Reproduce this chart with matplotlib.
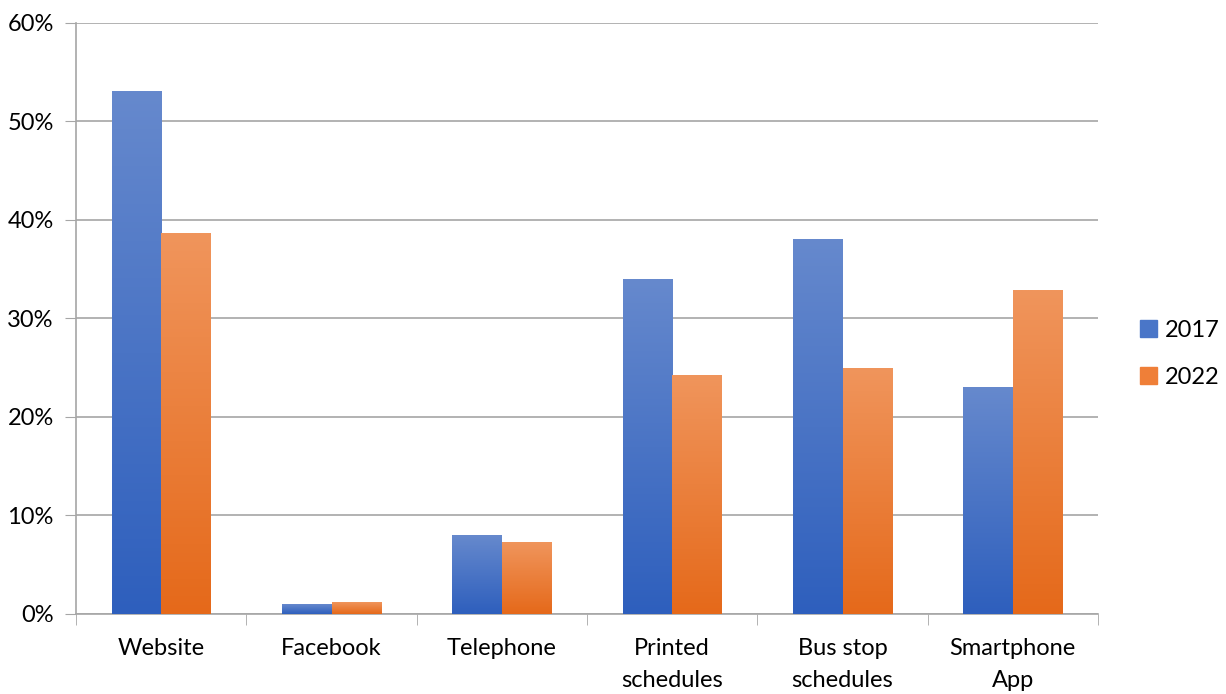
import matplotlib.pyplot as plt
import numpy as np
from matplotlib.colors import LinearSegmentedColormap
from matplotlib.patches import Patch

categories = ['Website', 'Facebook', 'Telephone', 'Printed\nschedules',
              'Bus stop\nschedules', 'Smartphone\nApp']
y2017 = [53, 1.0, 8.0, 34, 38, 23]
y2022 = [38.6, 1.2, 7.3, 24.2, 24.9, 32.8]
series = ['2017', '2022']

blue_cm = LinearSegmentedColormap.from_list('b', ['#2e5fbd', '#6689cd'])
orange_cm = LinearSegmentedColormap.from_list('o', ['#e5691a', '#f0955c'])

plt.rcParams['font.family'] = ['Lato', 'DejaVu Sans']
fig = plt.figure(figsize=(12.26, 6.94), dpi=100)
ax = fig.add_axes([0.062, 0.1153, 0.8336, 0.8516])

x = np.arange(len(categories))
w = 0.29
grad = np.linspace(0, 1, 256).reshape(-1, 1)

def gradient_bars(pos, vals, cmap):
    bars = ax.bar(pos, vals, w, color='none', edgecolor='none', zorder=3)
    for b in bars:
        x0, y0 = b.get_x(), b.get_y()
        ax.imshow(grad, cmap=cmap, origin='lower', aspect='auto',
                  extent=[x0, x0 + b.get_width(), y0, y0 + b.get_height()],
                  zorder=3, interpolation='bilinear')

gradient_bars(x - w / 2, y2017, blue_cm)
gradient_bars(x + w / 2, y2022, orange_cm)

ax.set_xlim(-0.5, len(categories) - 0.5)
ax.set_ylim(0, 60)
ax.set_yticks(np.arange(0, 61, 10))
ax.set_yticklabels([f'{v}%' for v in range(0, 61, 10)])
ax.yaxis.grid(True, color='#a6a6a6', linewidth=1.2, zorder=0)
ax.set_axisbelow(True)
ax.tick_params(axis='y', length=8, color='#a6a6a6', labelsize=17, pad=8)
ax.set_xticks(x)
ax.set_xticklabels(categories, fontsize=17, linespacing=1.65)
ax.set_xticks(np.arange(-0.5, len(categories)), minor=True)
ax.tick_params(axis='x', which='major', length=0, pad=17)
ax.tick_params(axis='x', which='minor', length=8, color='#a6a6a6')
for s in ['top', 'right']:
    ax.spines[s].set_visible(False)
for s in ['left', 'bottom']:
    ax.spines[s].set_color('#a6a6a6')
    ax.spines[s].set_linewidth(1.2)

handles = [Patch(color='#4a76c8'), Patch(color='#ef7f38')]
ax.legend(handles, series, loc='center left', bbox_to_anchor=(1.02, 0.44),
          frameon=False, fontsize=17, handlelength=0.75, handleheight=0.75,
          handletextpad=0.3, labelspacing=1.1)

fig.savefig('out.png')
